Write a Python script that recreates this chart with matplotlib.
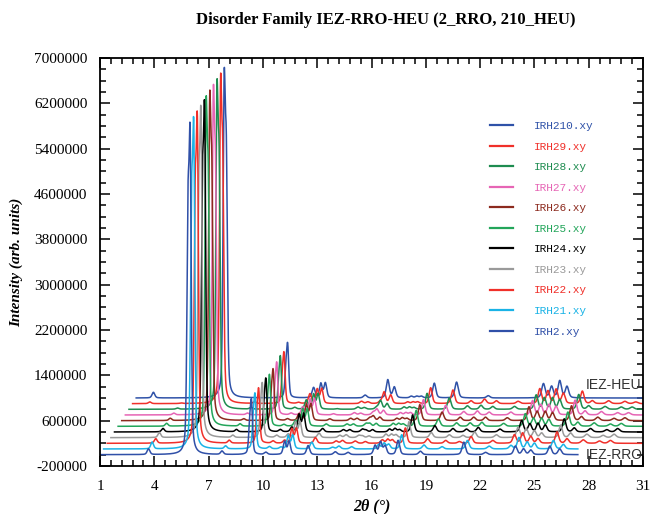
import numpy as np
import matplotlib.pyplot as plt
from matplotlib.ticker import FixedLocator, FuncFormatter

# sample names, bottom (IRH2) to top (IRH210)
names = ['IRH2.xy', 'IRH21.xy', 'IRH22.xy', 'IRH23.xy', 'IRH24.xy', 'IRH25.xy',
         'IRH26.xy', 'IRH27.xy', 'IRH28.xy', 'IRH29.xy', 'IRH210.xy']
colors = ['#3050a8', '#1ab3e6', '#f0302a', '#9a9a9a', '#000000', '#23a55a',
          '#8c2a1e', '#e665b5', '#1e8c50', '#f0302a', '#2f52a8']

# stacking offsets
x_shift = 0.2          # deg per pattern
y_shift = 100000       # counts per pattern
x_start = 1.0
x_end = [27.4, 27.2, 31, 31, 31, 31, 31, 31, 31, 31, 31]

# peak list (2theta, FWHM)
peak_pos = [1.95, 3.68, 5.86, 5.98, 7.74, 9.27, 9.37, 10.16, 10.8, 11.2, 11.45,
            12.5, 13.65, 14.0, 14.7, 14.9, 15.26, 16.2, 16.5, 16.75, 17.47,
            18.7, 19.7, 20.45, 21.1, 22.3, 23.5, 23.95, 24.4, 24.8, 25.85,
            26.4, 27.3, 28.2, 28.8]
peak_fwhm = [0.18, 0.18, 0.14, 0.14, 0.18, 0.14, 0.14, 0.2, 0.2, 0.18, 0.18,
             0.2, 0.22, 0.22, 0.22, 0.2, 0.2, 0.2, 0.2, 0.2, 0.2,
             0.22, 0.22, 0.22, 0.22, 0.24, 0.22, 0.22, 0.22, 0.22, 0.22,
             0.22, 0.26, 0.26, 0.26]

# peak heights (x1000 counts), one row per pattern
h_irh2 = [0, 100, 3800, 5100, 60, 450, 850, 40, 0, 230, 230, 160, 0, 50, 40, 0, 0,
          160, 220, 150, 250, 60, 0, 0, 220, 40, 0, 150, 100, 80, 150, 100, 0, 0, 0]
h_irh21 = [0, 120, 3800, 5100, 50, 450, 850, 40, 30, 230, 240, 120, 30, 50, 40, 0, 0,
           80, 100, 80, 250, 70, 40, 0, 150, 50, 60, 200, 120, 100, 150, 80, 0, 0, 0]
h_irh22 = [0, 80, 3800, 5100, 50, 420, 850, 40, 50, 250, 260, 100, 40, 50, 40, 0, 30,
           60, 70, 60, 270, 80, 50, 30, 120, 50, 150, 180, 120, 80, 200, 80, 60, 40, 50]
h_irh23 = [0, 90, 3800, 5100, 40, 400, 850, 40, 60, 270, 280, 80, 40, 50, 40, 30, 30,
           60, 60, 50, 280, 90, 50, 40, 100, 50, 180, 160, 120, 80, 220, 80, 60, 40, 60]
h_irh24 = [0, 60, 3800, 5100, 40, 400, 830, 40, 80, 300, 320, 60, 40, 40, 50, 30, 40,
           50, 60, 40, 300, 110, 60, 50, 80, 50, 200, 140, 150, 120, 230, 70, 60, 40, 60]
h_irh25 = [0, 50, 5080, 3740, 40, 380, 800, 30, 100, 300, 300, 40, 40, 40, 50, 50, 50,
           50, 50, 40, 280, 130, 60, 60, 70, 50, 220, 140, 140, 120, 250, 70, 60, 40, 50]
h_irh26 = [0, 40, 5080, 3740, 30, 380, 800, 30, 120, 280, 290, 30, 40, 40, 50, 80, 60,
           40, 50, 40, 280, 150, 60, 60, 60, 50, 240, 160, 160, 140, 260, 70, 60, 40, 50]
h_irh27 = [0, 30, 5080, 3740, 30, 380, 820, 30, 140, 270, 280, 20, 40, 30, 50, 100, 80,
           40, 40, 40, 270, 170, 60, 70, 50, 50, 250, 180, 180, 150, 260, 70, 60, 40, 40]
h_irh28 = [0, 20, 5080, 3740, 30, 380, 830, 30, 160, 260, 270, 10, 40, 30, 40, 150, 100,
           40, 40, 30, 280, 200, 60, 70, 50, 50, 250, 200, 200, 170, 260, 60, 50, 40, 40]
h_irh29 = [30, 10, 5080, 3740, 30, 380, 800, 20, 170, 250, 260, 0, 40, 30, 40, 200, 150,
           30, 30, 30, 280, 240, 50, 80, 50, 40, 260, 220, 250, 180, 220, 50, 50, 40, 30]
h_irh210 = [100, 0, 5080, 3740, 0, 420, 850, 0, 180, 250, 260, 0, 50, 0, 0, 320, 190,
            30, 30, 30, 260, 280, 0, 40, 0, 0, 250, 200, 300, 200, 0, 0, 0, 0, 0]

heights = [h_irh2, h_irh21, h_irh22, h_irh23, h_irh24, h_irh25,
           h_irh26, h_irh27, h_irh28, h_irh29, h_irh210]

x_ticks = [1, 4, 7, 10, 13, 16, 19, 22, 25, 28, 31]
y_ticks = [-200000, 600000, 1400000, 2200000, 3000000, 3800000,
           4600000, 5400000, 6200000, 7000000]


def pseudo_voigt(x, x0, fwhm, eta=0.4):
    g = np.exp(-4 * np.log(2) * ((x - x0) / fwhm) ** 2)
    l = 1.0 / (1.0 + 4 * ((x - x0) / fwhm) ** 2)
    return (1 - eta) * g + eta * l


def pattern(x, hts):
    y = np.zeros_like(x)
    for p, w, h in zip(peak_pos, peak_fwhm, hts):
        if h > 0:
            y += h * 1000 * pseudo_voigt(x, p, w)
    return y


plt.rcParams['font.family'] = 'Liberation Serif'

fig = plt.figure(figsize=(6.51, 5.14), dpi=100)
ax = fig.add_axes([100 / 651, 48 / 514, 543 / 651, 408 / 514])

for k in range(len(names) - 1, -1, -1):
    x = np.linspace(x_start, x_end[k], 6000)
    y = pattern(x, heights[k])
    ax.plot(x + k * x_shift, y + k * y_shift, color=colors[k], lw=1.1,
            label=names[k])

ax.set_xlim(1, 31)
ax.set_ylim(-200000, 7000000)
ax.xaxis.set_major_locator(FixedLocator(x_ticks))
ax.xaxis.set_minor_locator(FixedLocator(np.arange(1, 31.01, 0.6)))
ax.yaxis.set_major_locator(FixedLocator(y_ticks))
ax.yaxis.set_minor_locator(FixedLocator(np.arange(-200000, 7000001, 200000)))
ax.yaxis.set_major_formatter(FuncFormatter(lambda v, p: f'{v:.0f}'))
ax.tick_params(which='both', direction='in', top=True, right=True,
               labelsize=11, width=1.1)
ax.tick_params(which='major', length=7)
ax.tick_params(which='minor', length=4)
ax.tick_params(axis='y', pad=9)
ax.tick_params(axis='x', pad=10)
for s in ax.spines.values():
    s.set_linewidth(1.3)

ax.set_xlabel('2θ (°)', fontsize=11.5, fontweight='bold', style='italic',
              labelpad=4)
ax.set_ylabel('Intensity (arb. units)', fontsize=11, fontweight='bold',
              style='italic', labelpad=8)
fig.text(0.592, 0.962, 'Disorder Family IEZ-RRO-HEU (2_RRO, 210_HEU)',
         ha='center', va='center', fontsize=12, fontweight='bold')

handles, labels = ax.get_legend_handles_labels()
leg = ax.legend(handles, labels, loc='upper left', bbox_to_anchor=(0.7, 0.87),
                frameon=False, handlelength=2.1, handletextpad=1.8,
                labelspacing=0.95, prop={'family': 'Liberation Mono', 'size': 8})
for txt, ln in zip(leg.get_texts(), leg.get_lines()):
    txt.set_color(ln.get_color())
    ln.set_linewidth(1.6)

ax.text(27.85, 1230000, 'IEZ-HEU', fontsize=10, family='Liberation Sans',
        color='#333333', va='center')
ax.text(27.85, 0, 'IEZ-RRO', fontsize=10, family='Liberation Sans',
        color='#333333', va='center')

fig.savefig('out.png', dpi=100)
